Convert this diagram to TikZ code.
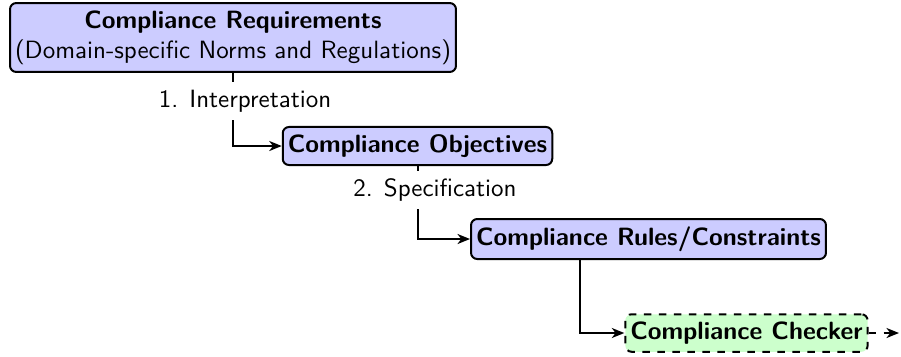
\documentclass[tikz,border=0pt]{standalone}
\usepackage{tikz}
\usetikzlibrary{positioning,arrows.meta}

\begin{document}
\begin{tikzpicture}[x=0.4pt,y=-0.4pt,font=\sffamily,>={Stealth[length=5pt,width=4pt,inset=1.5pt]},
  phase/.style={draw,thick,rounded corners=2.5pt,fill=blue!20,align=center,inner xsep=2pt,inner ysep=3pt},
  checkphase/.style={phase,dashed,fill=green!20},
  steplabel/.style={inner sep=3pt}]
\useasboundingbox (0,0) rectangle (901,356);

\node[phase] (req) at (233,37.5) {\textbf{Compliance Requirements}\\(Domain-specific Norms and Regulations)};
\node[phase] (obj) at (417.5,146) {\textbf{Compliance Objectives}};
\node[phase] (rules) at (648.5,239) {\textbf{Compliance Rules/Constraints}};
\node[checkphase] (checker) at (746.5,333) {\textbf{Compliance Checker}};

\node[steplabel] (interp) at (245,101) {1. Interpretation};
\node[steplabel] (spec) at (435,190) {2. Specification};

\coordinate (fork) at (580,259);
\coordinate (out) at (899,333);

\draw[thick] (req.south) -- (req.south |- interp.north);
\draw[thick,->] (req.south |- interp.south) |- (obj.west);
\draw[thick] (obj.south) -- (obj.south |- spec.north);
\draw[thick,->] (obj.south |- spec.south) |- (rules.west);
\draw[thick,->] (fork) |- (checker.west);
\draw[thick,dashed,->] (checker.east) -- (out);
\end{tikzpicture}
\end{document}
